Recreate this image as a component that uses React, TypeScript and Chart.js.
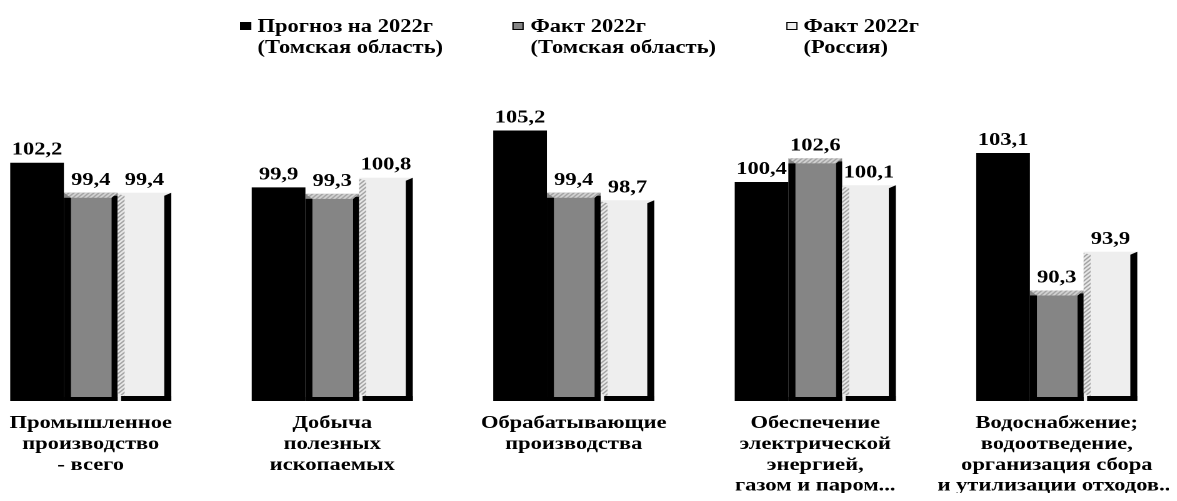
import React, { useEffect, useRef } from "react";
import { Chart, registerables } from "chart.js";

Chart.register(...registerables);

// ---- data ----
const categories: string[][] = [
  ["Промышленное", "производство", "- всего"],
  ["Добыча", "полезных", "ископаемых"],
  ["Обрабатывающие", "производства"],
  ["Обеспечение", "электрической", "энергией,", "газом и паром..."],
  ["Водоснабжение;", "водоотведение,", "организация сбора", "и утилизации отходов..."],
];
const forecastTomsk = [102.2, 99.9, 105.2, 100.4, 103.1];
const factTomsk = [99.4, 99.3, 99.4, 102.6, 90.3];
const factRussia = [99.4, 100.8, 98.7, 100.1, 93.9];
const seriesNames: string[][] = [
  ["Прогноз на 2022г", "(Томская область)"],
  ["Факт 2022г", "(Томская область)"],
  ["Факт 2022г", "(Россия)"],
];
const yMin = 80;
const yMax = 110;

// ---- style ----
const SX = 1.25; // horizontal stretch of the scanned original
const FONT = '"Liberation Serif", "Times New Roman", serif';
const GREY = "#858585";
const LIGHT = "#eeeeee";
const CANVAS_H = 501;

function makeHatch(bg: string, fg: string): CanvasPattern | string {
  const c = document.createElement("canvas");
  c.width = 4;
  c.height = 4;
  const g = c.getContext("2d");
  if (!g) return fg;
  g.fillStyle = bg;
  g.fillRect(0, 0, 4, 4);
  g.strokeStyle = fg;
  g.lineWidth = 1.2;
  g.beginPath();
  g.moveTo(0, 4);
  g.lineTo(4, 0);
  g.moveTo(-1, 1);
  g.lineTo(1, -1);
  g.moveTo(3, 5);
  g.lineTo(5, 3);
  g.stroke();
  const p = g.createPattern(c, "repeat");
  return p || fg;
}

const fmt = (v: number) => v.toFixed(1).replace(".", ",");

export default function App() {
  const ref = useRef<HTMLCanvasElement | null>(null);

  useEffect(() => {
    if (!ref.current) return;
    const hatch = makeHatch("#ffffff", "#7a7a7a");
    const capHatch = makeHatch("#e0e0e0", "#8a8a8a");
    const F = 1 / SX;

    const deco = {
      id: "deco",
      afterDatasetsDraw(chart: any) {
        const ctx = chart.ctx as CanvasRenderingContext2D;
        const base = chart.chartArea.bottom;
        ctx.save();
        chart.data.datasets.forEach((ds: any, di: number) => {
          const meta = chart.getDatasetMeta(di);
          meta.data.forEach((bar: any, idx: number) => {
            const { x, y, width } = bar.getProps(["x", "y", "width"], true);
            const left = x - width / 2;
            const right = x + width / 2;
            if (di === 1) {
              const lf = 7 * F, rf = 6 * F, cap = 5;
              ctx.fillStyle = "#000";
              ctx.fillRect(left, y + cap, lf, base - y - cap);
              ctx.fillRect(right - rf, y + 3, rf, base - y - 3);
              ctx.fillRect(left, base - 4, right - left, 4);
              ctx.fillStyle = capHatch as any;
              ctx.beginPath();
              ctx.moveTo(left, y);
              ctx.lineTo(right, y);
              ctx.lineTo(right - rf, y + cap);
              ctx.lineTo(left + lf, y + cap);
              ctx.closePath();
              ctx.fill();
            } else if (di === 2) {
              const lf = 7 * F, rf = 7 * F;
              ctx.fillStyle = hatch as any;
              ctx.beginPath();
              ctx.moveTo(left, y + 1);
              ctx.lineTo(left + lf, y + 3);
              ctx.lineTo(left + lf, base - 4);
              ctx.lineTo(left, base - 8);
              ctx.closePath();
              ctx.fill();
              ctx.fillStyle = "#000";
              ctx.beginPath();
              ctx.moveTo(right - rf, y + 3);
              ctx.lineTo(right, y);
              ctx.lineTo(right, base);
              ctx.lineTo(right - rf, base);
              ctx.closePath();
              ctx.fill();
              ctx.fillRect(left + lf * 0.5, base - 5, right - left - lf * 0.5, 5);
            }
            // value label
            ctx.fillStyle = "#000";
            ctx.font = `bold 18px ${FONT}`;
            ctx.textAlign = "center";
            ctx.textBaseline = "alphabetic";
            ctx.fillText(fmt(ds.data[idx]), x, y - 8);
          });
        });
        ctx.restore();
      },
    };

    const chart = new Chart(ref.current, {
      type: "bar",
      data: {
        labels: categories,
        datasets: [
          { label: seriesNames[0].join(" "), data: forecastTomsk, backgroundColor: "#000000" },
          { label: seriesNames[1].join(" "), data: factTomsk, backgroundColor: GREY },
          { label: seriesNames[2].join(" "), data: factRussia, backgroundColor: LIGHT },
        ],
      },
      options: {
        animation: false,
        responsive: true,
        maintainAspectRatio: false,
        devicePixelRatio: 2,
        layout: { padding: { top: 79, bottom: 0, left: 0, right: 0 } },
        datasets: {
          bar: { barPercentage: 1, categoryPercentage: 0.667, borderWidth: 0 },
        },
        plugins: {
          legend: { display: false },
          tooltip: { enabled: false },
        },
        scales: {
          x: {
            offset: true,
            grid: { display: false, drawTicks: false },
            border: { display: false },
            ticks: {
              color: "#000",
              padding: 12,
              maxRotation: 0,
              autoSkip: false,
              font: { family: FONT, size: 18, weight: "bold", lineHeight: 1.16 },
            },
            afterFit: (scale: any) => {
              scale.height = CANVAS_H - 401;
              scale.paddingLeft = 0;
              scale.paddingRight = 0;
            },
          },
          y: {
            display: false,
            min: yMin,
            max: yMax,
          },
        },
      },
      plugins: [deco],
    });
    return () => chart.destroy();
  }, []);

  const legendX = [216, 434.4, 652.8];
  const markerFill = ["#000", GREY, LIGHT];

  return (
    <div style={{ position: "relative", width: 1177, height: 501, margin: -8, overflow: "hidden", background: "#fff" }}>
      <div
        style={{
          position: "absolute",
          left: -30,
          top: 0,
          width: 966,
          height: CANVAS_H,
          transform: `scaleX(${SX})`,
          transformOrigin: "0 0",
        }}
      >
        <canvas ref={ref} />
        {seriesNames.map((lines, i) => (
          <React.Fragment key={i}>
            <div
              style={{
                position: "absolute",
                left: legendX[i],
                top: 22,
                width: 9,
                height: 8,
                background: markerFill[i],
                border: i === 0 ? "none" : "1px solid #000",
                boxSizing: "border-box",
              }}
            />
            <div
              style={{
                position: "absolute",
                left: legendX[i] + 14,
                top: 16,
                fontFamily: FONT,
                fontWeight: "bold",
                fontSize: 18,
                lineHeight: "21px",
                color: "#000",
                whiteSpace: "nowrap",
              }}
            >
              {lines.map((l, j) => (
                <div key={j}>{l}</div>
              ))}
            </div>
          </React.Fragment>
        ))}
      </div>
    </div>
  );
}
